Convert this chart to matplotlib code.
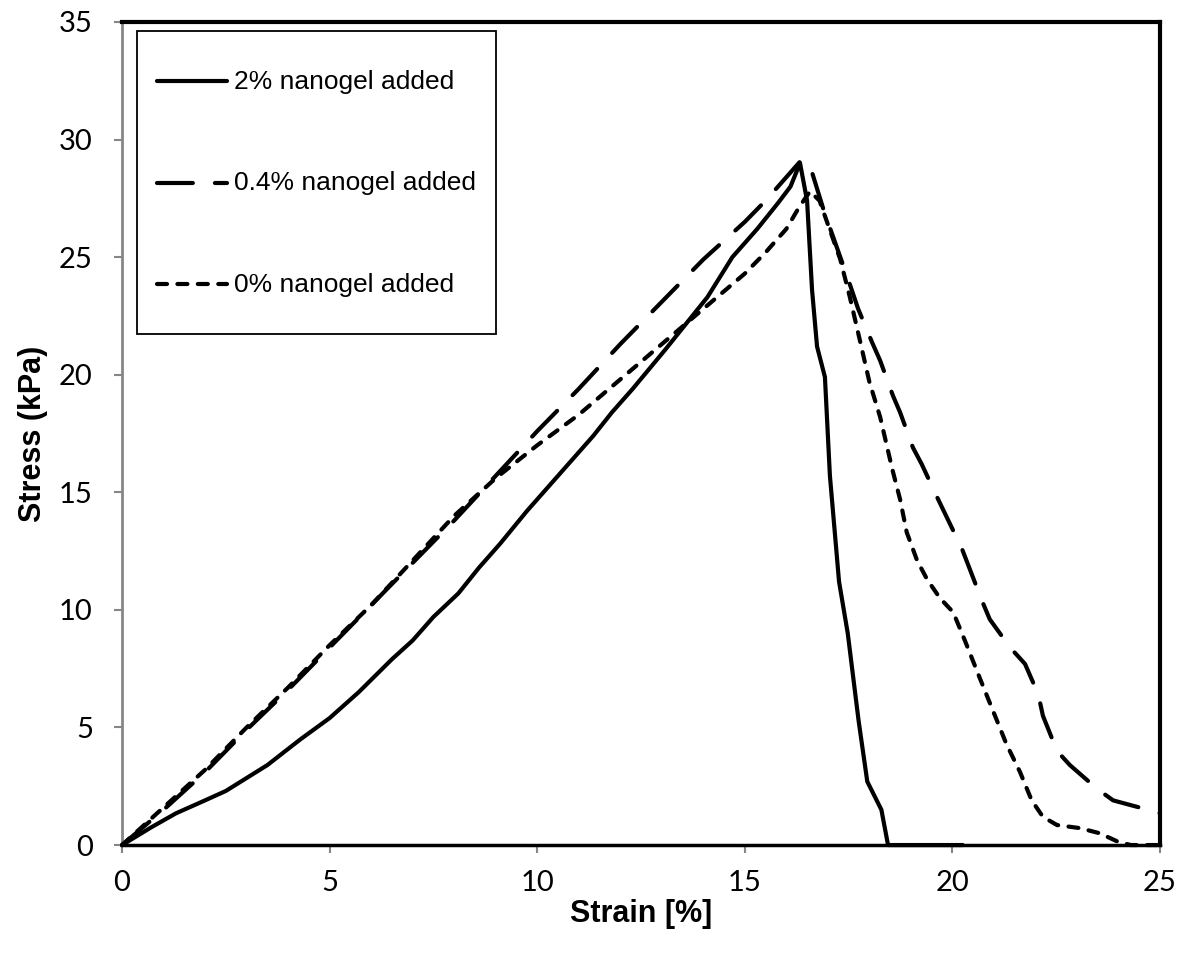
import matplotlib
matplotlib.use("Agg")
from matplotlib import pyplot as plt

# 2% nanogel added
strain_2 = [0, 0.7, 1.3, 2.0, 2.5, 3.5, 4.3, 5.0, 5.7, 6.5, 7.0, 7.5, 8.1, 8.6, 9.1,
            9.75, 10.4, 10.7, 11.35, 11.8, 12.3, 13.1, 14.1, 14.7, 15.3, 15.8, 16.1,
            16.33, 16.5, 16.62, 16.74, 16.93, 17.05, 17.27, 17.48, 17.74, 17.95, 18.29,
            18.45, 20.25]
stress_2 = [0, 0.75, 1.35, 1.9, 2.3, 3.4, 4.5, 5.4, 6.5, 7.9, 8.7, 9.7, 10.7, 11.8, 12.8,
            14.2, 15.5, 16.1, 17.4, 18.4, 19.4, 21.1, 23.3, 25.0, 26.2, 27.3, 28.0,
            29.0, 27.4, 23.6, 21.2, 19.9, 15.7, 11.2, 9.0, 5.3, 2.7, 1.5,
            0, 0]

# 0.4% nanogel added
strain_04 = [0, 1, 2, 3, 4, 5, 6, 7, 8, 9, 10, 11, 12, 13, 14, 15, 15.5, 16, 16.35,
             16.55, 16.69, 16.9, 17.2, 17.5, 17.73, 18.06, 18.26, 18.57, 18.74, 19.05,
             19.26, 19.63, 20.23, 20.71, 20.9, 21.39, 21.75, 22.07, 22.18, 22.52, 22.83,
             23.48, 23.87, 24.71, 25]
stress_04 = [0, 1.5, 3.1, 4.9, 6.6, 8.4, 10.2, 12.0, 13.8, 15.7, 17.6, 19.4, 21.3, 23.1,
             24.9, 26.5, 27.4, 28.4, 29.1,
             29.0, 28.2, 27.0, 25.5, 24.0, 22.8, 21.4, 20.6, 19.1, 18.4, 16.9,
             16.2, 14.8, 12.6, 10.4, 9.6, 8.4, 7.7, 6.4, 5.5, 4.0, 3.4,
             2.4, 1.9, 1.5, 1.35]

# 0% nanogel added
strain_0 = [0, 1, 2, 3, 4, 5, 6, 7, 8, 9, 10, 11, 12, 13, 14, 15, 15.5, 16, 16.3, 16.57,
            16.8, 17.1, 17.3, 17.53, 17.78, 18.0, 18.26, 18.55, 18.74, 18.9, 19.15, 19.39,
            19.7, 20.02, 20.3, 20.66, 20.98, 21.3, 21.63, 21.91, 22.18, 22.52, 23.07,
            23.55, 24.0, 24.3, 25]
stress_0 = [0, 1.6, 3.2, 5.0, 6.7, 8.5, 10.2, 12.1, 14.0, 15.6, 17.0, 18.3, 19.8, 21.3,
            22.8, 24.3, 25.2, 26.2, 27.1, 27.8,
            27.4, 25.9, 24.9, 23.3, 21.4, 19.7, 18.2, 16.0, 14.7, 13.3, 12.1, 11.3,
            10.5, 9.9, 8.7, 7.1, 5.7, 4.3, 3.1, 1.9, 1.2, 0.85, 0.72,
            0.5, 0.13, 0, 0]

labels = ["2% nanogel added", "0.4% nanogel added", "0% nanogel added"]

tick_font = "Lato"
text_font = "Liberation Sans"
gray = "#868686"

fig = plt.figure(figsize=(11.78, 9.64), dpi=100)
ax = fig.add_axes([0.1036, 0.1234, 0.8811, 0.8538])

lw = 3
ax.plot(strain_2, stress_2, color="black", lw=lw, solid_capstyle="round",
        solid_joinstyle="round", clip_on=False, zorder=3, label=labels[0])
ax.plot(strain_04, stress_04, color="black", lw=lw, linestyle=(0, (8.6, 5.3)),
        dash_capstyle="round", dash_joinstyle="round", clip_on=False, zorder=3,
        label=labels[1])
ax.plot(strain_0, stress_0, color="black", lw=lw, linestyle=(0, (2.4, 2.5)),
        dash_capstyle="round", dash_joinstyle="round", clip_on=False, zorder=3,
        label=labels[2])

ax.set_xlim(0, 25)
ax.set_ylim(0, 35)
ax.set_xticks(range(0, 26, 5))
ax.set_yticks(range(0, 36, 5))

for side in ["top", "right"]:
    ax.spines[side].set_color("black")
    ax.spines[side].set_linewidth(3)
ax.spines["bottom"].set_color("black")
ax.spines["bottom"].set_linewidth(2.5)
ax.spines["left"].set_color(gray)
ax.spines["left"].set_linewidth(2)

ax.tick_params(axis="both", direction="out", color=gray, width=1.5, length=6,
               labelsize=21, labelfontfamily=tick_font)
ax.tick_params(axis="x", pad=12)
ax.tick_params(axis="y", pad=15)

ax.set_xlabel("Strain [%]", fontfamily=text_font, fontweight="bold", fontsize=22,
              labelpad=2)
ax.set_ylabel("Stress (kPa)", fontfamily=text_font, fontweight="bold", fontsize=22,
              labelpad=8)

leg = ax.legend(loc="upper left", bbox_to_anchor=(0.0145, 0.989), borderaxespad=0,
                prop={"family": text_font, "size": 19}, frameon=True, fancybox=False,
                edgecolor="black", framealpha=1, handlelength=2.65, handletextpad=0.25,
                handleheight=3.15, labelspacing=1.55, borderpad=0.76)
leg.get_frame().set_linewidth(1.3)
# centre the sample lines on the text
for h in leg.legend_handles:
    h.set_ydata([y - 8 for y in h.get_ydata()])

fig.savefig("out.png", dpi=100)
